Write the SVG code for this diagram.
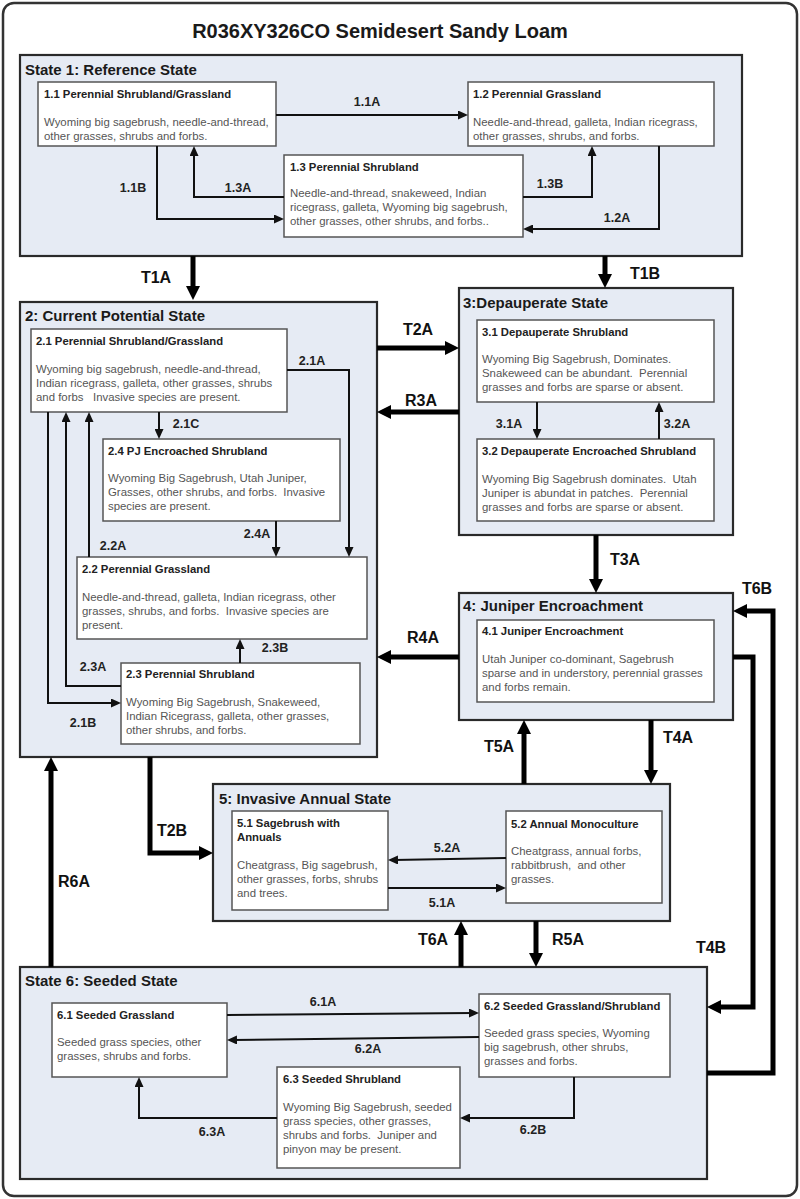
<svg xmlns="http://www.w3.org/2000/svg" width="800" height="1199" viewBox="0 0 800 1199">
<style>
.title{font:bold 20px "Liberation Sans",Arial,sans-serif;fill:#1a1a1a}
.st{font:bold 15px "Liberation Sans",Arial,sans-serif;fill:#1a1a1a}
.state{fill:#e6ebf4;stroke:#2a2a2a;stroke-width:2.2}
.node{fill:#ffffff;stroke:#555;stroke-width:1.5}
.nt{font:bold 11.3px "Liberation Sans",Arial,sans-serif;fill:#222}
.nb{font:11.4px "Liberation Sans",Arial,sans-serif;fill:#555}
.lb{font:bold 12.5px "Liberation Sans",Arial,sans-serif;fill:#222;text-anchor:middle}
.tl{font:bold 16px "Liberation Sans",Arial,sans-serif;fill:#111;text-anchor:middle}
.thin{fill:none;stroke:#111;stroke-width:2;marker-end:url(#ah)}
.thick{fill:none;stroke:#000;stroke-width:5;marker-end:url(#AH)}
</style>
<defs>
<marker id="ah" viewBox="0 0 10 9" refX="4" refY="4.5" markerWidth="10" markerHeight="9" markerUnits="userSpaceOnUse" orient="auto"><path d="M0,0 L10,4.5 L0,9 z" fill="#111"/></marker>
<marker id="AH" viewBox="0 0 14 14" refX="4" refY="7" markerWidth="14" markerHeight="14" markerUnits="userSpaceOnUse" orient="auto"><path d="M0,0 L14,7 L0,14 z" fill="#000"/></marker>
</defs>
<rect x="3" y="3" width="794" height="1193" rx="11" fill="#ffffff" stroke="#333" stroke-width="2.5"/>
<text class="title" x="380" y="38" text-anchor="middle">R036XY326CO Semidesert Sandy Loam</text>

<g id="state1">
<rect class="state" x="20" y="55" width="722" height="201"/>
<text class="st" x="25" y="75">State 1: Reference State</text>
</g>
<g id="n1-1">
<rect class="node" x="38" y="82" width="238" height="64"/>
<text class="nt" x="44" y="98">1.1 Perennial Shrubland/Grassland</text>
<text class="nb" x="44" y="126">Wyoming big sagebrush, needle-and-thread,</text>
<text class="nb" x="44" y="140">other grasses, shrubs and forbs.</text>
</g>
<g id="n1-2">
<rect class="node" x="468" y="82" width="246" height="64"/>
<text class="nt" x="473" y="98">1.2 Perennial Grassland</text>
<text class="nb" x="473" y="126">Needle-and-thread, galleta, Indian ricegrass,</text>
<text class="nb" x="473" y="140">other grasses, shrubs, and forbs.</text>
</g>
<g id="n1-3">
<rect class="node" x="284" y="155" width="239" height="82"/>
<text class="nt" x="290" y="171">1.3 Perennial Shrubland</text>
<text class="nb" x="290" y="197">Needle-and-thread, snakeweed, Indian</text>
<text class="nb" x="290" y="211">ricegrass, galleta, Wyoming big sagebrush,</text>
<text class="nb" x="290" y="225">other grasses, other shrubs, and forbs..</text>
</g>

<g id="state2">
<rect class="state" x="20" y="302" width="357" height="455"/>
<text class="st" x="25" y="321">2: Current Potential State</text>
</g>
<g id="n2-1">
<rect class="node" x="31" y="329" width="256" height="83"/>
<text class="nt" x="36" y="345">2.1 Perennial Shrubland/Grassland</text>
<text class="nb" x="36" y="373">Wyoming big sagebrush, needle-and-thread,</text>
<text class="nb" x="36" y="387">Indian ricegrass, galleta, other grasses, shrubs</text>
<text class="nb" x="36" y="401" xml:space="preserve">and forbs   Invasive species are present.</text>
</g>
<g id="n2-4">
<rect class="node" x="103" y="439" width="237" height="82"/>
<text class="nt" x="108" y="455">2.4 PJ Encroached Shrubland</text>
<text class="nb" x="108" y="482">Wyoming Big Sagebrush, Utah Juniper,</text>
<text class="nb" x="108" y="496" xml:space="preserve">Grasses, other shrubs, and forbs.  Invasive</text>
<text class="nb" x="108" y="510">species are present.</text>
</g>
<g id="n2-2">
<rect class="node" x="77" y="557" width="290" height="82"/>
<text class="nt" x="82" y="573">2.2 Perennial Grassland</text>
<text class="nb" x="82" y="601">Needle-and-thread, galleta, Indian ricegrass, other</text>
<text class="nb" x="82" y="615" xml:space="preserve">grasses, shrubs, and forbs.  Invasive species are</text>
<text class="nb" x="82" y="629">present.</text>
</g>
<g id="n2-3">
<rect class="node" x="121" y="663" width="239" height="81"/>
<text class="nt" x="126" y="678">2.3 Perennial Shrubland</text>
<text class="nb" x="126" y="706">Wyoming Big Sagebrush, Snakeweed,</text>
<text class="nb" x="126" y="720">Indian Ricegrass, galleta, other grasses,</text>
<text class="nb" x="126" y="734">other shrubs, and forbs.</text>
</g>

<g id="state3">
<rect class="state" x="459" y="288" width="274" height="247"/>
<text class="st" x="463" y="308">3:Depauperate State</text>
</g>
<g id="n3-1">
<rect class="node" x="477" y="320" width="237" height="82"/>
<text class="nt" x="482" y="336">3.1 Depauperate Shrubland</text>
<text class="nb" x="482" y="363">Wyoming Big Sagebrush, Dominates.</text>
<text class="nb" x="482" y="377" xml:space="preserve">Snakeweed can be abundant.  Perennial</text>
<text class="nb" x="482" y="391">grasses and forbs are sparse or absent.</text>
</g>
<g id="n3-2">
<rect class="node" x="477" y="439" width="237" height="82"/>
<text class="nt" x="482" y="455">3.2 Depauperate Encroached Shrubland</text>
<text class="nb" x="482" y="483" xml:space="preserve">Wyoming Big Sagebrush dominates.  Utah</text>
<text class="nb" x="482" y="497" xml:space="preserve">Juniper is abundat in patches.  Perennial</text>
<text class="nb" x="482" y="511">grasses and forbs are sparse or absent.</text>
</g>

<g id="state4">
<rect class="state" x="459" y="593" width="274" height="127"/>
<text class="st" x="463" y="611">4: Juniper Encroachment</text>
</g>
<g id="n4-1">
<rect class="node" x="477" y="620" width="237" height="82"/>
<text class="nt" x="482" y="635">4.1 Juniper Encroachment</text>
<text class="nb" x="482" y="663">Utah Juniper co-dominant, Sagebrush</text>
<text class="nb" x="482" y="677">sparse and in understory, perennial grasses</text>
<text class="nb" x="482" y="691">and forbs remain.</text>
</g>

<g id="state5">
<rect class="state" x="213" y="784" width="457" height="137"/>
<text class="st" x="219" y="804">5: Invasive Annual State</text>
</g>
<g id="n5-1">
<rect class="node" x="232" y="811" width="156" height="99"/>
<text class="nt" x="237" y="827">5.1 Sagebrush with</text>
<text class="nt" x="237" y="841">Annuals</text>
<text class="nb" x="237" y="869">Cheatgrass, Big sagebrush,</text>
<text class="nb" x="237" y="883">other grasses, forbs, shrubs</text>
<text class="nb" x="237" y="897">and trees.</text>
</g>
<g id="n5-2">
<rect class="node" x="506" y="811" width="156" height="92"/>
<text class="nt" x="511" y="828">5.2 Annual Monoculture</text>
<text class="nb" x="511" y="855">Cheatgrass, annual forbs,</text>
<text class="nb" x="511" y="869" xml:space="preserve">rabbitbrush,  and other</text>
<text class="nb" x="511" y="883">grasses.</text>
</g>

<g id="state6">
<rect class="state" x="20" y="967" width="687" height="212"/>
<text class="st" x="25" y="986">State 6: Seeded State</text>
</g>
<g id="n6-1">
<rect class="node" x="52" y="1003" width="175" height="74"/>
<text class="nt" x="57" y="1019">6.1 Seeded Grassland</text>
<text class="nb" x="57" y="1046">Seeded grass species, other</text>
<text class="nb" x="57" y="1060">grasses, shrubs and forbs.</text>
</g>
<g id="n6-2">
<rect class="node" x="479" y="994" width="191" height="83"/>
<text class="nt" x="484" y="1010">6.2 Seeded Grassland/Shrubland</text>
<text class="nb" x="484" y="1037">Seeded grass species, Wyoming</text>
<text class="nb" x="484" y="1051">big sagebrush, other shrubs,</text>
<text class="nb" x="484" y="1065">grasses and forbs.</text>
</g>
<g id="n6-3">
<rect class="node" x="277" y="1067" width="183" height="101"/>
<text class="nt" x="283" y="1083">6.3 Seeded Shrubland</text>
<text class="nb" x="283" y="1111">Wyoming Big Sagebrush, seeded</text>
<text class="nb" x="283" y="1125">grass species, other grasses,</text>
<text class="nb" x="283" y="1139" xml:space="preserve">shrubs and forbs.  Juniper and</text>
<text class="nb" x="283" y="1153">pinyon may be present.</text>
</g>

<g id="connectors">
<path class="thin" d="M276,115 H462"/>
<path class="thin" d="M157,146 V219 H278"/>
<path class="thin" d="M284,197 H194 V152"/>
<path class="thin" d="M523,197 H592 V152"/>
<path class="thin" d="M659,146 V229 H529"/>
<path class="thin" d="M287,370 H349 V551"/>
<path class="thin" d="M159,412 V433"/>
<path class="thin" d="M276,521 V551"/>
<path class="thin" d="M89,557 V418"/>
<path class="thin" d="M121,686 H66 V418"/>
<path class="thin" d="M48,412 V703 H115"/>
<path class="thin" d="M240,663 V645"/>
<path class="thin" d="M537,402 V433"/>
<path class="thin" d="M659,439 V408"/>
<path class="thin" d="M506,858 L394,860"/>
<path class="thin" d="M388,888 H500"/>
<path class="thin" d="M227,1015 L473,1013"/>
<path class="thin" d="M479,1037 L233,1040"/>
<path class="thin" d="M277,1118 H139 V1083"/>
<path class="thin" d="M574,1077 V1118 H466"/>

<path class="thick" d="M193,256 V290"/>
<path class="thick" d="M605,256 V278"/>
<path class="thick" d="M377,348 H449"/>
<path class="thick" d="M459,412 H387"/>
<path class="thick" d="M596,535 V583"/>
<path class="thick" d="M459,657 H387"/>
<path class="thick" d="M651,720 V774"/>
<path class="thick" d="M524,784 V730"/>
<path class="thick" d="M150,757 V853 H203"/>
<path class="thick" d="M51,967 V767"/>
<path class="thick" d="M461,967 V931"/>
<path class="thick" d="M536,921 V957"/>
<path class="thick" d="M733,657 H753 V1007 H717"/>
<path class="thick" d="M707,1073 H773 V611 H743"/>

<text class="lb" x="367" y="106">1.1A</text>
<text class="lb" x="133" y="192">1.1B</text>
<text class="lb" x="238" y="192">1.3A</text>
<text class="lb" x="550" y="188">1.3B</text>
<text class="lb" x="617" y="222">1.2A</text>
<text class="lb" x="312" y="365">2.1A</text>
<text class="lb" x="186" y="428">2.1C</text>
<text class="lb" x="257" y="538">2.4A</text>
<text class="lb" x="113" y="550">2.2A</text>
<text class="lb" x="275" y="652">2.3B</text>
<text class="lb" x="93" y="671">2.3A</text>
<text class="lb" x="83" y="727">2.1B</text>
<text class="lb" x="509" y="428">3.1A</text>
<text class="lb" x="677" y="428">3.2A</text>
<text class="lb" x="447" y="852">5.2A</text>
<text class="lb" x="442" y="907">5.1A</text>
<text class="lb" x="323" y="1006">6.1A</text>
<text class="lb" x="368" y="1053">6.2A</text>
<text class="lb" x="212" y="1136">6.3A</text>
<text class="lb" x="533" y="1134">6.2B</text>

<text class="tl" x="156" y="283">T1A</text>
<text class="tl" x="645" y="279">T1B</text>
<text class="tl" x="418" y="335">T2A</text>
<text class="tl" x="421" y="406">R3A</text>
<text class="tl" x="625" y="565">T3A</text>
<text class="tl" x="757" y="594">T6B</text>
<text class="tl" x="423" y="643">R4A</text>
<text class="tl" x="678" y="743">T4A</text>
<text class="tl" x="499" y="752">T5A</text>
<text class="tl" x="172" y="836">T2B</text>
<text class="tl" x="74" y="887">R6A</text>
<text class="tl" x="433" y="945">T6A</text>
<text class="tl" x="568" y="945">R5A</text>
<text class="tl" x="711" y="953">T4B</text>
</g>
</svg>
